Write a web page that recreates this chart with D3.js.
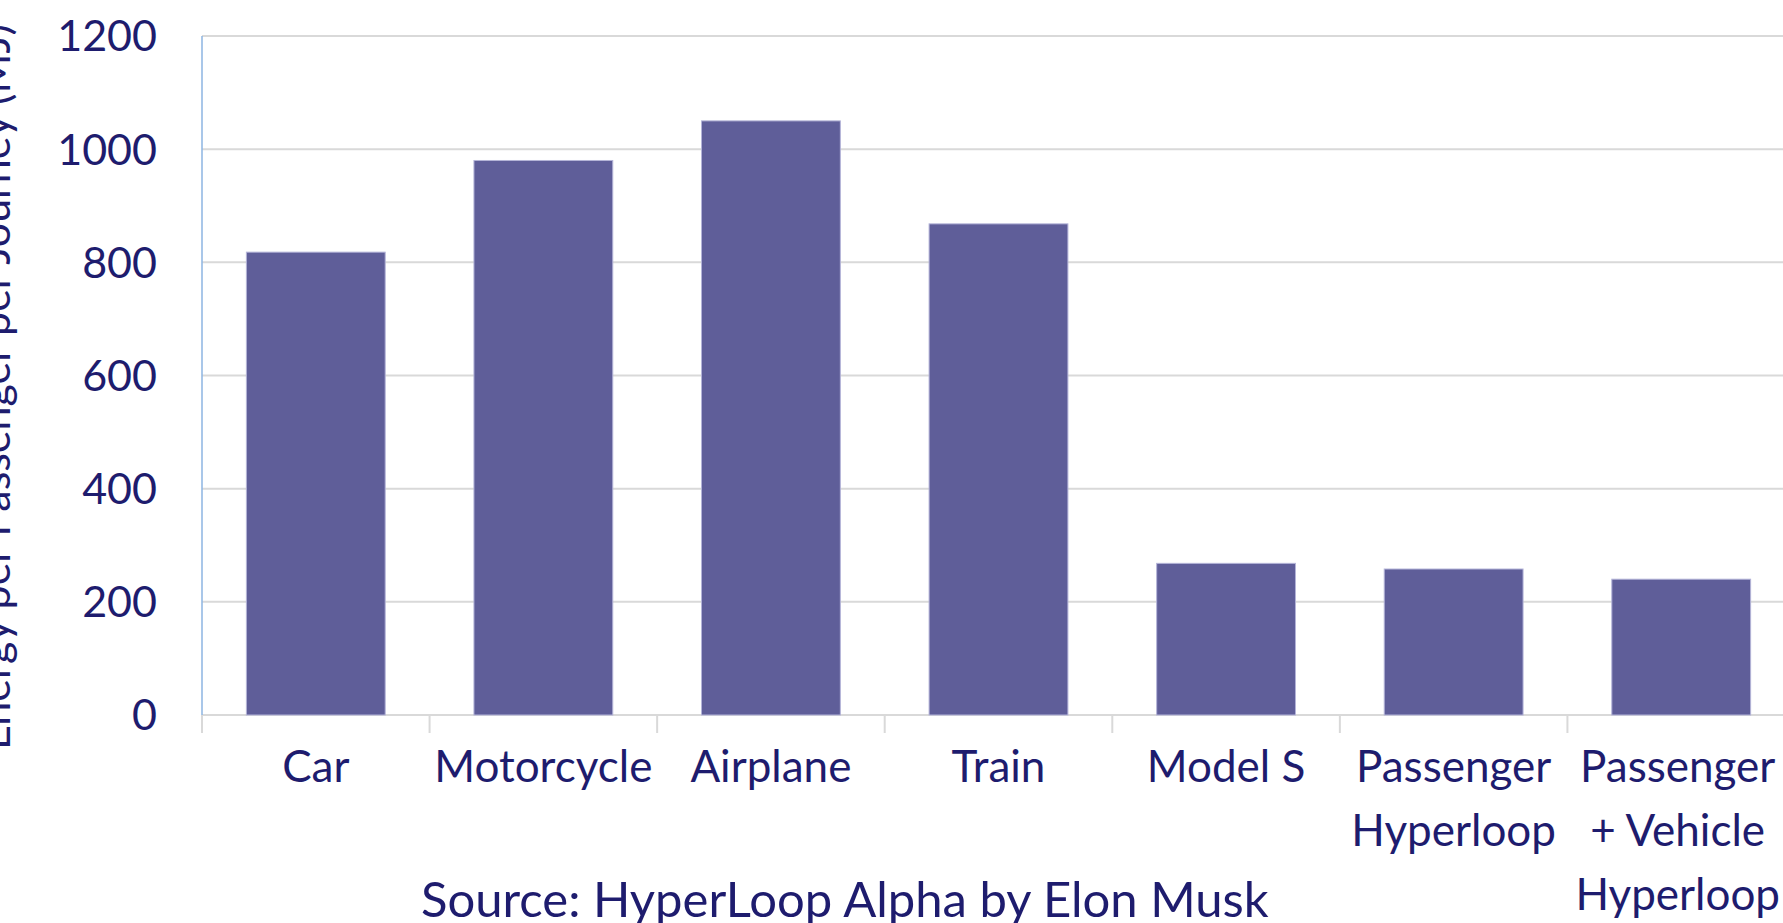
<!DOCTYPE html>
<html>
<head>
<meta charset="utf-8">
<script src="https://cdn.jsdelivr.net/npm/d3@7"></script>
<style>
  body { margin: 0; background: #fff; overflow: hidden; }
  text { font-family: Lato, "Open Sans", sans-serif; fill: #1e1c6e; }
</style>
</head>
<body>
<div id="chart"></div>
<script>
// chart data
const categories = ['Car', 'Motorcycle', 'Airplane', 'Train', 'Model S', 'Passenger\nHyperloop', 'Passenger\n+ Vehicle\nHyperloop'];
const energy = [818, 980, 1050, 868, 268, 258, 240];
const yTicks = [0, 200, 400, 600, 800, 1000, 1200];
const yTitle = 'Energy per Passenger per Journey (MJ)';
const source = 'Source: HyperLoop Alpha by Elon Musk';

const W = 1783, H = 923;
const plot = { left: 202, right: 1795, top: 36, bottom: 715 };

const svg = d3.select('#chart')
    .append('svg')
    .attr('width', W)
    .attr('height', H);

const data = categories.map((c, i) => ({ name: c, value: energy[i] }));

const x = d3.scaleBand()
    .domain(categories)
    .range([plot.left, plot.right])
    .paddingInner(0.39)
    .paddingOuter(0.195);

const y = d3.scaleLinear()
    .domain([0, 1200])
    .range([plot.bottom, plot.top]);

// gridlines
svg.append('g')
    .selectAll('line')
    .data(yTicks)
    .join('line')
    .attr('x1', plot.left)
    .attr('x2', plot.right)
    .attr('y1', d => y(d))
    .attr('y2', d => y(d))
    .attr('stroke', '#d9d9d9')
    .attr('stroke-width', 2);

// bars
svg.append('g')
    .selectAll('rect')
    .data(data)
    .join('rect')
    .attr('x', d => x(d.name))
    .attr('width', x.bandwidth())
    .attr('y', d => y(d.value))
    .attr('height', d => y(0) - y(d.value))
    .attr('fill', '#5f5e99')
    .attr('stroke', '#b4b4d8')
    .attr('stroke-width', 1);

// x axis ticks at band boundaries
const step = x.step();
const boundaries = d3.range(categories.length + 1).map(i => plot.left + i * step);
svg.append('g')
    .selectAll('line')
    .data(boundaries)
    .join('line')
    .attr('x1', d => d)
    .attr('x2', d => d)
    .attr('y1', y(0))
    .attr('y2', y(0) + 18)
    .attr('stroke', '#d9d9d9')
    .attr('stroke-width', 2);

// y axis line
svg.append('line')
    .attr('x1', plot.left)
    .attr('x2', plot.left)
    .attr('y1', plot.top)
    .attr('y2', plot.bottom)
    .attr('stroke', '#8db4e2')
    .attr('stroke-width', 1.5);

// y tick labels
svg.append('g')
    .selectAll('text')
    .data(yTicks)
    .join('text')
    .attr('x', 157)
    .attr('y', d => y(d))
    .attr('dy', '0.36em')
    .attr('text-anchor', 'end')
    .style('font-size', '43px')
    .text(d => d);

// x labels, multi-line
const xl = svg.append('g')
    .selectAll('text')
    .data(categories)
    .join('text')
    .attr('x', d => x(d) + x.bandwidth() / 2)
    .attr('y', 782)
    .attr('text-anchor', 'middle')
    .style('font-size', '44px');

xl.selectAll('tspan')
    .data(d => d.split('\n'))
    .join('tspan')
    .attr('x', function() { return this.parentNode.getAttribute('x'); })
    .attr('dy', (d, i) => i === 0 ? 0 : 64)
    .text(d => d);

// keep the labels inside the right edge, like the original does
xl.each(function() {
    const b = this.getBBox();
    const over = b.x + b.width - (W - 3);
    if (over > 0) {
        const cx = +this.getAttribute('x') - over;
        d3.select(this).attr('x', cx).selectAll('tspan').attr('x', cx);
    }
});

// y title
svg.append('text')
    .attr('transform', 'translate(10,750) rotate(-90)')
    .attr('text-anchor', 'start')
    .style('font-size', '43px')
    .text(yTitle);

// source note
svg.append('text')
    .attr('x', 421)
    .attr('y', 917)
    .style('font-size', '49px')
    .text(source);
</script>
</body>
</html>
